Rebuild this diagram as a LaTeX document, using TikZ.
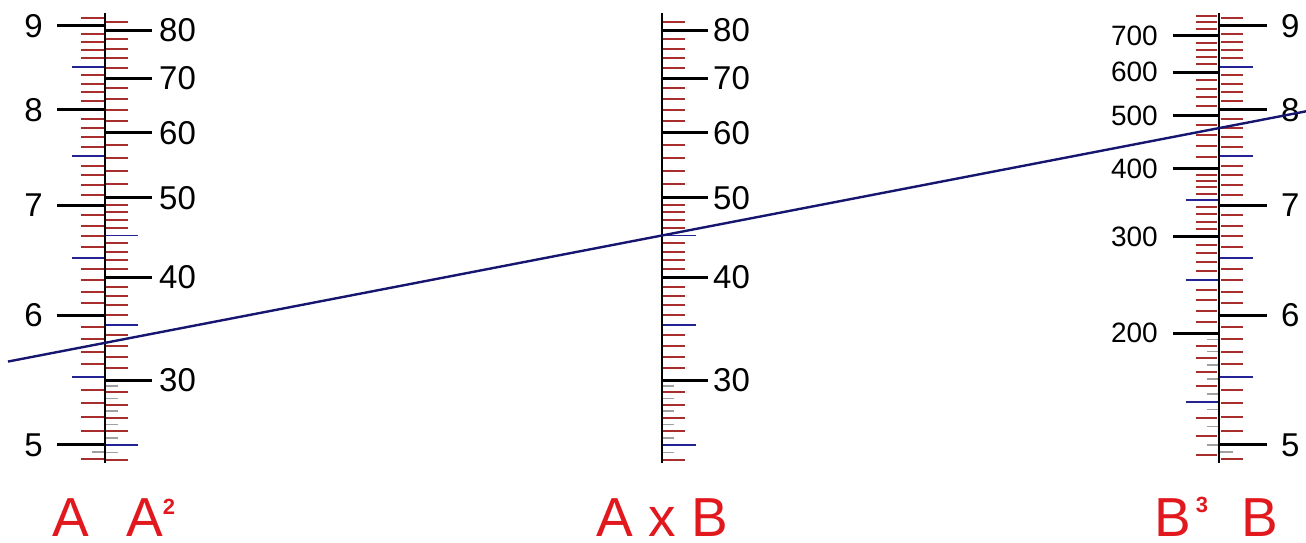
\documentclass[tikz,border=0pt]{standalone}
\usepackage{fontspec}
\setmainfont{Liberation Sans}
\usetikzlibrary{calc}
\definecolor{tickred}{RGB}{168,45,45}
\definecolor{tickblue}{RGB}{35,35,150}
\definecolor{tickgray}{RGB}{160,160,160}
\definecolor{linenavy}{RGB}{22,22,112}
\definecolor{labred}{RGB}{225,25,30}
\newcommand\mysup[2]{\raisebox{#1}{\fontsize{22}{22}\selectfont\bfseries #2}}
\begin{document}
\begin{tikzpicture}[x=1pt,y=-1pt,
  declare function={ya(\a)=26+712.85*ln(9/\a); yv(\v)=26+356.43*ln(81/\v); yc(\c)=26+237.62*ln(729/\c);},
  axisline/.style={line width=2.4pt,black},
  majortick/.style={line width=3pt,black},
  redtick/.style={line width=2pt,tickred},
  bluetick/.style={line width=1.8pt,tickblue},
  graytick/.style={line width=1.3pt,tickgray},
  numlab/.style={inner sep=0pt,font=\fontsize{33}{33}\selectfont},
  smalllab/.style={inner sep=0pt,font=\fontsize{28}{28}\selectfont},
  biglab/.style={inner sep=0pt,text=labred,font=\fontsize{55}{55}\selectfont}]
\useasboundingbox (0,0) rectangle (1306,543);
% ---------------- A scale (left of left axis) and B scale (right of right axis)
\foreach \i in {49,...,91}{
  \pgfmathtruncatemacro\r{mod(\i,5)}
  \ifnum\r>0
    \draw[redtick] (81,{ya(\i/10)}) -- (104,{ya(\i/10)});
    \draw[redtick] (1221,{ya(\i/10)}) -- (1243,{ya(\i/10)});
  \fi
}
\draw[graytick] (92,{ya(4.95)}) -- (104,{ya(4.95)});
\draw[graytick] (1220,{ya(4.95)}) -- (1233,{ya(4.95)});
\foreach \a in {5.5,6.5,7.5,8.5}{
  \draw[bluetick] (72,{ya(\a)}) -- (105,{ya(\a)});
  \draw[bluetick] (1219,{ya(\a)}) -- (1253,{ya(\a)});
}
\foreach \a in {5,6,7,8,9}{
  \draw[majortick] (57,{ya(\a)}) -- (105,{ya(\a)});
  \node[numlab,anchor=east] (aL\a) at (43,{ya(\a)}) {\a};
  \draw[majortick] (1219,{ya(\a)}) -- (1267,{ya(\a)});
  \node[numlab,anchor=west] (bL\a) at (1281,{ya(\a)}) {\a};
}
% ---------------- A^2 scale (right of left axis) and A x B scale (middle)
\foreach \v in {24,26,27,28,29,31,32,33,34,36,37,38,39,41,42,43,44,46,47,48,49,52,54,56,58,62,64,66,68,72,74,76,78,82}{
  \draw[redtick] (106,{yv(\v)}) -- (128,{yv(\v)});
  \draw[redtick] (663,{yv(\v)}) -- (685,{yv(\v)});
}
\foreach \v in {24.5,25.5,26.5,27.5,28.5,29.5}{
  \draw[graytick] (106,{yv(\v)}) -- (118,{yv(\v)});
  \draw[graytick] (663,{yv(\v)}) -- (674,{yv(\v)});
}
\foreach \v in {25,35,45}{
  \draw[bluetick] (105,{yv(\v)}) -- (138,{yv(\v)});
  \draw[bluetick] (662,{yv(\v)}) -- (696,{yv(\v)});
}
\foreach \v in {30,40,50,60,70,80}{
  \draw[majortick] (105,{yv(\v)}) -- (152,{yv(\v)});
  \node[numlab,anchor=west] (sqL\v) at (159,{yv(\v)}) {\v};
  \draw[majortick] (662,{yv(\v)}) -- (708,{yv(\v)});
  \node[numlab,anchor=west] (mL\v) at (713,{yv(\v)}) {\v};
}
% ---------------- B^3 scale (left of right axis)
\foreach \c in {120,130,140,160,170,180,190,210,220,230,240,260,270,280,290,310,320,330,340,360,370,380,390,420,440,460,480,520,540,560,580,620,640,660,680,720,740,760}{
  \draw[redtick] (1196,{yc(\c)}) -- (1217,{yc(\c)});
}
\foreach \c in {125,135,...,195}{
  \draw[graytick] (1207,{yc(\c)}) -- (1218,{yc(\c)});
}
\foreach \c in {150,250,350}{
  \draw[bluetick] (1186,{yc(\c)}) -- (1219,{yc(\c)});
}
\foreach \c in {200,300,400,500,600,700}{
  \draw[majortick] (1173,{yc(\c)}) -- (1219,{yc(\c)});
  \node[smalllab,anchor=east] (cL\c) at (1158,{yc(\c)}) {\c};
}
% ---------------- axes
\draw[axisline] (105,13) coordinate (axLtop) -- (105,463) coordinate (axLbot);
\draw[axisline] (662,13) coordinate (axMtop) -- (662,463) coordinate (axMbot);
\draw[axisline] (1219,13) coordinate (axRtop) -- (1219,463) coordinate (axRbot);
% ---------------- index line
\coordinate (pA) at (105,{ya(5.77)});
\coordinate (pB) at (1219,{ya(45/5.77)});
\coordinate (lineL) at ($(pA)!-0.0871!(pB)$);
\coordinate (lineR) at ($(pA)!1.0781!(pB)$);
\draw[linenavy,line width=2.4pt] (lineL) -- (lineR);
% ---------------- scale names
\node[biglab,anchor=base] (labA) at (71,536) {A};
\node[biglab,anchor=base west] (labA2) at (126,536) {A\mysup{22pt}{2}};
\node[biglab,anchor=base] (labAB) at (662,536) {A x B};
\node[biglab,anchor=base west] (labB3) at (1154,536) {B\hspace{5pt}\mysup{24pt}{3}};
\node[biglab,anchor=base] (labB) at (1260,536) {B};
\end{tikzpicture}
\end{document}
